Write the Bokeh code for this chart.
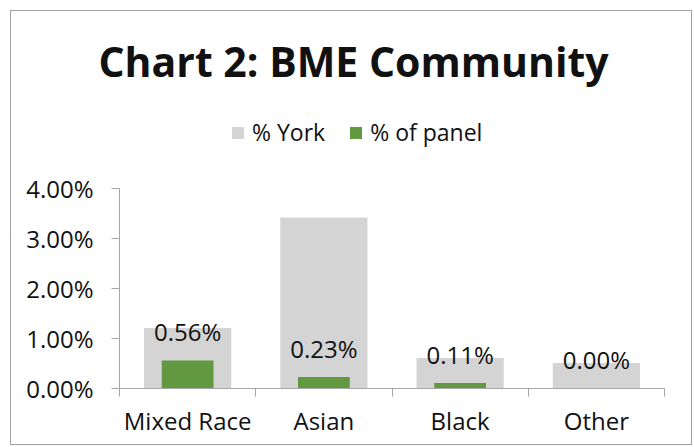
from bokeh.plotting import figure
from bokeh.models import (Range1d, LinearAxis, FixedTicker,
                          Label, Legend, LegendItem, ColumnDataSource)
from bokeh.core.properties import value
from bokeh.embed import file_html
from bokeh.resources import INLINE

# ---- data ----
categories = ["Mixed Race", "Asian", "Black", "Other"]
york_pct = [1.21, 3.42, 0.61, 0.51]
panel_pct = [0.56, 0.23, 0.11, 0.00]
panel_labels = ["0.56%", "0.23%", "0.11%", "0.00%"]
y_ticks = [0, 1, 2, 3, 4]
y_tick_labels = ["0.00%", "1.00%", "2.00%", "3.00%", "4.00%"]
title_text = "Chart 2: BME Community"
series_names = ["% York", "% of panel"]

FONT = "Open Sans"
TXT = "#111111"
AXC = "#a6a6a6"
GREY = "#d4d4d4"
GREEN = "#62983f"

n = len(categories)
centers = [i + 0.5 for i in range(n)]
edges = list(range(n + 1))

# layout (pixels) -- the frame fills the whole canvas; axes are fixed inside it
W, H = 682, 435
AXIS_X = 108          # pixel x of the value axis
AXIS_Y = 377          # pixel y of the category axis (from top)
PLOT_R = 653          # pixel x of the right end of the category axis
px_per_cat = (PLOT_R - AXIS_X) / n
px_per_unit = 50.0    # 1 % = 50 px
x_start = -AXIS_X / px_per_cat
x_end = n + (W - PLOT_R) / px_per_cat
y_start = -(H - AXIS_Y) / px_per_unit
y_top = AXIS_Y / px_per_unit

src = ColumnDataSource(dict(x=centers, cat=categories, york=york_pct, panel=panel_pct, label=panel_labels))

p = figure(width=W, height=H, output_backend="svg", toolbar_location=None,
           x_range=Range1d(x_start, x_end), y_range=Range1d(y_start, y_top),
           x_axis_location=None, y_axis_location=None,
           min_border_left=0, min_border_right=0, min_border_top=0, min_border_bottom=0)
p.styles = {"border": "1px solid #a0a0a0", "margin-left": "10px", "margin-top": "10px"}
p.outline_line_color = None
p.xgrid.visible = False
p.ygrid.visible = False
p.background_fill_color = "white"
p.border_fill_color = "white"

r_york = p.vbar(x="x", top="york", width=0.64, source=src, fill_color=GREY, line_color=None)
r_panel = p.vbar(x="x", top="panel", width=0.38, source=src, fill_color=GREEN, line_color=None)
p.text(x="x", y="panel", text="label", source=src, y_offset=-29,
       text_align="center", text_baseline="middle", text_font_size="24px",
       text_font=value(FONT), text_color=TXT)

# y axis, fixed at x = 0 (left edge of the first category)
yax = LinearAxis(ticker=FixedTicker(ticks=y_ticks), bounds=(y_ticks[0], y_ticks[-1]),
                 fixed_location=0,
                 major_label_overrides={t: l for t, l in zip(y_ticks, y_tick_labels)})
yax.axis_line_color = AXC
yax.major_tick_line_color = AXC
yax.major_tick_in = 0
yax.major_tick_out = 8
yax.minor_tick_line_color = None
yax.major_label_standoff = 18
yax.major_label_text_font = FONT
yax.major_label_text_font_size = "24px"
yax.major_label_text_color = TXT
p.add_layout(yax, "left")

# x axis: tick marks at category edges
edge_ax = LinearAxis(ticker=FixedTicker(ticks=edges), bounds=(0, n), fixed_location=0)
edge_ax.axis_line_color = AXC
edge_ax.major_tick_line_color = AXC
edge_ax.major_tick_in = 0
edge_ax.major_tick_out = 8
edge_ax.minor_tick_line_color = None
edge_ax.major_label_text_font_size = "0px"
edge_ax.major_label_standoff = 0
p.add_layout(edge_ax, "below")

# x axis: category names at centres
cat_ax = LinearAxis(ticker=FixedTicker(ticks=centers), fixed_location=0,
                    major_label_overrides={c: name for c, name in zip(centers, categories)})
cat_ax.axis_line_color = None
cat_ax.major_tick_line_color = None
cat_ax.minor_tick_line_color = None
cat_ax.major_tick_out = 0
cat_ax.major_tick_in = 0
cat_ax.major_label_standoff = 15
cat_ax.major_label_text_font = FONT
cat_ax.major_label_text_font_size = "24px"
cat_ax.major_label_text_color = TXT
p.add_layout(cat_ax, "below")

# title
p.add_layout(Label(x=342, y=328 + (H - AXIS_Y), x_units="screen", y_units="screen", text=title_text,
                   text_align="center", text_baseline="alphabetic",
                   text_font=FONT, text_font_style="bold", text_font_size="41px",
                   text_color=TXT))

# legend
legend = Legend(items=[LegendItem(label=series_names[0], renderers=[r_york]),
                       LegendItem(label=series_names[1], renderers=[r_panel])],
                location=(219, 240 + (H - AXIS_Y)), orientation="horizontal",
                glyph_width=15, glyph_height=15, label_standoff=7, spacing=23,
                padding=0, margin=0, border_line_color=None, background_fill_alpha=0,
                label_text_font=FONT, label_text_font_size="23px", label_text_color=TXT)
p.add_layout(legend, "center")

open("out.html", "w").write(file_html(p, INLINE))
